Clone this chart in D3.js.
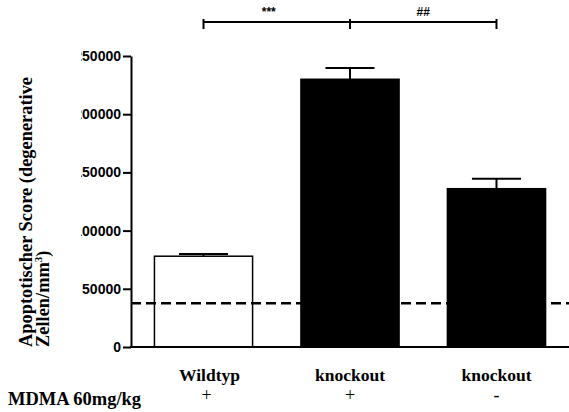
<!DOCTYPE html>
<html>
  <head>
    <meta charset="utf-8">
    <title>Apoptotischer Score</title>
    <script src="https://cdn.jsdelivr.net/npm/d3@7"></script>
    <style>
      body { margin: 0; background: #fff; }
      svg { display: block; }
    </style>
  </head>
  <body>
    <script>
     // data
     let groups = ["wt", "ko1", "ko2"];
     let groupLabels = ["Wildtyp", "knockout", "knockout"];
     let mdma = ["+", "+", "-"];
     let means = [78000, 230000, 136000];
     let sems = [2000, 9700, 8600];
     let fills = ["#fff", "#000", "#000"];
     let yTicks = [0, 50000, 100000, 150000, 200000, 250000];
     let baseline = 37500;
     let brackets = [["wt", "ko1", "***"], ["ko1", "ko2", "##"]];

     let w = 569;
     let h = 412;
     let margin = {top: 56, right: 0, bottom: 65, left: 131};

     let svg = d3.select("body").append("svg")
		 .attr("width", w)
		 .attr("height", h);

     let xScale = d3.scaleBand()
		    .domain(groups)
		    .range([margin.left, w - margin.right])
		    .paddingInner(0.33)
		    .paddingOuter(0.16);

     let yScale = d3.scaleLinear()
		    .domain([0, 250000])
		    .range([h - margin.bottom, margin.top]);

     let rows = groups.map((g, i) => ({id: g, mean: means[i], sem: sems[i], fill: fills[i]}));

     // bars
     svg.selectAll("rect.bar")
	.data(rows)
	.enter()
	.append("rect")
	.attr("class", "bar")
	.attr("x", (d) => xScale(d.id))
	.attr("width", xScale.bandwidth())
	.attr("y", (d) => yScale(d.mean))
	.attr("height", (d) => yScale(0) - yScale(d.mean))
	.attr("fill", (d) => d.fill)
	.attr("stroke", "#000")
	.attr("stroke-width", 1.5);

     // error bars (upper only)
     let bw = xScale.bandwidth();
     svg.selectAll("line.err")
	.data(rows)
	.enter()
	.append("line")
	.attr("x1", (d) => xScale(d.id) + bw / 2)
	.attr("x2", (d) => xScale(d.id) + bw / 2)
	.attr("y1", (d) => yScale(d.mean))
	.attr("y2", (d) => yScale(d.mean + d.sem))
	.attr("stroke", "#000")
	.attr("stroke-width", 2);
     svg.selectAll("line.cap")
	.data(rows)
	.enter()
	.append("line")
	.attr("x1", (d) => xScale(d.id) + bw / 4)
	.attr("x2", (d) => xScale(d.id) + bw * 3 / 4)
	.attr("y1", (d) => yScale(d.mean + d.sem))
	.attr("y2", (d) => yScale(d.mean + d.sem))
	.attr("stroke", "#000")
	.attr("stroke-width", 2);

     // dashed reference line
     svg.append("line")
	.attr("x1", margin.left)
	.attr("x2", w)
	.attr("y1", yScale(baseline))
	.attr("y2", yScale(baseline))
	.attr("stroke", "#000")
	.attr("stroke-width", 2.5)
	.attr("stroke-dasharray", "10,5");

     // y axis -- labels are cut on the left in the original
     svg.append("clipPath")
	.attr("id", "tickclip")
	.append("rect")
	.attr("x", 81).attr("y", 0)
	.attr("width", w).attr("height", h);

     let yAxis = d3.axisLeft(yScale)
		   .tickValues(yTicks)
		   .tickFormat(d3.format("d"))
		   .tickSize(8)
		   .tickSizeOuter(0)
		   .tickPadding(2);
     let gy = svg.append("g")
		 .attr("clip-path", "url(#tickclip)")
		 .append("g")
		 .attr("transform", "translate(" + margin.left + ", 0)")
		 .call(yAxis);
     gy.selectAll("path, line").attr("stroke", "#000").attr("stroke-width", 2);
     gy.selectAll("text")
       .attr("fill", "#000")
       .style("font-family", "'Liberation Sans', Arial, sans-serif")
       .style("font-weight", "bold")
       .style("font-size", "14px");

     // x axis line
     svg.append("line")
	.attr("x1", margin.left - 1)
	.attr("x2", w)
	.attr("y1", yScale(0))
	.attr("y2", yScale(0))
	.attr("stroke", "#000")
	.attr("stroke-width", 2);

     // y title
     let serif = "'Liberation Serif', 'Times New Roman', serif";
     let title = svg.append("text")
		    .attr("transform", "translate(32, 347) rotate(-90)")
		    .style("font-family", serif)
		    .style("font-weight", "bold")
		    .style("font-size", "18.4px");
     title.append("tspan").attr("x", 0).attr("y", 0).text("Apoptotischer Score (degenerative");
     title.append("tspan").attr("x", 0).attr("y", 17).text("Zellen/mm");
     title.append("tspan").attr("dy", -7).style("font-size", "11px").text("3");
     title.append("tspan").attr("dy", 7).text(")");

     // group labels and MDMA row
     svg.selectAll("text.glabel")
	.data(groups)
	.enter()
	.append("text")
	.attr("x", (d) => xScale(d) + bw / 2 + (d === "wt" ? 6 : 0))
	.attr("y", 381)
	.attr("text-anchor", "middle")
	.style("font-family", serif)
	.style("font-weight", "bold")
	.style("font-size", "17.5px")
	.text((d, i) => groupLabels[i]);

     svg.selectAll("text.mdma")
	.data(groups)
	.enter()
	.append("text")
	.attr("x", (d) => xScale(d) + bw / 2 + (d === "wt" ? 3 : 0))
	.attr("y", 401)
	.attr("text-anchor", "middle")
	.style("font-family", serif)
	.style("font-size", "18px")
	.text((d, i) => mdma[i]);

     svg.append("text")
	.attr("x", 8)
	.attr("y", 405)
	.style("font-family", serif)
	.style("font-weight", "bold")
	.style("font-size", "18.5px")
	.text("MDMA 60mg/kg");

     // significance brackets
     let by = 22;
     brackets.forEach((b) => {
       let x1 = xScale(b[0]) + bw / 2;
       let x2 = xScale(b[1]) + bw / 2;
       svg.append("line")
	  .attr("x1", x1).attr("x2", x2)
	  .attr("y1", by).attr("y2", by)
	  .attr("stroke", "#000").attr("stroke-width", 2);
       [x1, x2].forEach((x) => {
	 svg.append("line")
	    .attr("x1", x).attr("x2", x)
	    .attr("y1", by - 3).attr("y2", by + 7)
	    .attr("stroke", "#000").attr("stroke-width", 2);
       });
       svg.append("text")
	  .attr("x", (x1 + x2) / 2 - (b[2] === "***" ? 8 : 0))
	  .attr("y", 16)
	  .attr("text-anchor", "middle")
	  .style("font-family", "'Liberation Sans', Arial, sans-serif")
	  .style("font-weight", "bold")
	  .style("font-size", "12px")
	  .text(b[2]);
     });
    </script>
  </body>
</html>
